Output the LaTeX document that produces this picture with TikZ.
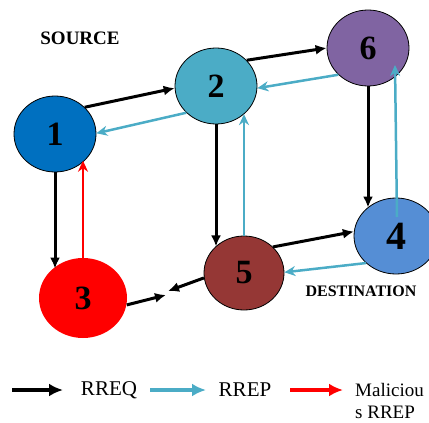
\documentclass[tikz,border=0pt]{standalone}
\usepackage{fontspec}
\setmainfont{Liberation Serif}
\usetikzlibrary{shapes.geometric,arrows.meta,calc}
\definecolor{cOne}{HTML}{0070C0}
\definecolor{cTwo}{HTML}{4BACC6}
\definecolor{cSix}{HTML}{8064A2}
\definecolor{cFour}{HTML}{558ED5}
\definecolor{cFive}{HTML}{953735}
\definecolor{cThree}{HTML}{FF0000}
\definecolor{rrep}{HTML}{4BACC6}
\tikzset{
  netnode/.style={ellipse,draw=black,line width=0.8pt,inner sep=0pt,minimum width=82pt,minimum height=76pt,font=\fontsize{34}{34}\selectfont\bfseries},
  reqarrow/.style={line width=3pt,black,-{Latex[length=11pt,width=10pt]}},
  reparrow/.style={line width=2.5pt,rrep,-{Stealth[length=11pt,width=10pt]}},
  malarrow/.style={line width=2.5pt,cThree,-{Stealth[length=11pt,width=10pt]}},
  legreq/.style={line width=3.8pt,black,-{Latex[length=14pt,width=13pt]}},
  legrep/.style={line width=3.8pt,rrep,-{Latex[length=14pt,width=13pt]}},
  legmal/.style={line width=3.8pt,cThree,-{Latex[length=14pt,width=13pt]}},
  legtext/.style={font=\fontsize{21}{23}\selectfont},
  tag/.style={font=\fontsize{16}{16}\selectfont\bfseries}
}
\begin{document}
\begin{tikzpicture}[x=1pt,y=-1pt]
\useasboundingbox (0,0) rectangle (429,423);
\node[netnode,fill=cOne] (n1) at (55,134) {1};
\node[netnode,fill=cTwo] (n2) at (216,86) {2};
\node[netnode,fill=cSix] (n6) at (368,48) {6};
\node[netnode,fill=cFour,minimum width=84pt,font=\fontsize{40}{40}\selectfont\bfseries] (n4) at (396,236) {4};
\node[netnode,fill=cFive,minimum width=80pt,minimum height=74pt] (n5) at (244,273) {5};
\node[netnode,draw=none,fill=cThree,minimum width=88pt,minimum height=80pt] (n3) at (83,298) {3};
\node[tag,font=\fontsize{19}{19}\selectfont\bfseries] (src) at (80,38) {SOURCE};
\node[tag] (dst) at (361,291) {DESTINATION};
\coordinate (ma) at (166,295);
\coordinate (mb) at (168,291);
% RREQ
\draw[reqarrow] (n1.42) -- (n2.183);
\draw[reqarrow] (n2.40) -- (n6.180);
\draw[reqarrow] (n2.south) -- (n2.south |- n5.137);
\draw[reqarrow] (n6.south) -- (n6.south |- n4.135);
\draw[reqarrow] (n5.42) -- (n4.174);
\draw[reqarrow] (n1.south) -- (n1.south |- n3.136);
\draw[reqarrow] (n3.-9) -- (ma);
\draw[reqarrow] (n5.187) -- (mb);
% RREP
\draw[reparrow] (n2.222) -- (n1.1);
\draw[reparrow] (n6.222) -- (n2.357);
\draw[reparrow] (n5.north) -- (n5.north |- n2.-45);
\draw[reparrow] (n4.222) -- (n5.1);
\draw[reparrow] ([xshift=1pt,yshift=19pt]n4.center) -- ([xshift=27pt,yshift=-17pt]n6.center);
% malicious
\draw[malarrow] (n3.north) -- (n3.north |- n1.-42);
% legend
\coordinate (l1a) at (12,390); \coordinate (l1b) at (63,390);
\coordinate (l2a) at (150,390); \coordinate (l2b) at (206,390);
\coordinate (l3a) at (290,390); \coordinate (l3b) at (343,390);
\draw[legreq] (l1a) -- (l1b);
\draw[legrep] (l2a) -- (l2b);
\draw[legmal] (l3a) -- (l3b);
\node[legtext] (t1) at (109,390) {RREQ};
\node[legtext] (t2) at (245,390) {RREP};
\node[legtext,font=\fontsize{19}{22}\selectfont,align=left,anchor=west,inner sep=0pt] (t3) at (355,401) {Maliciou\\s RREP};
\end{tikzpicture}
\end{document}
